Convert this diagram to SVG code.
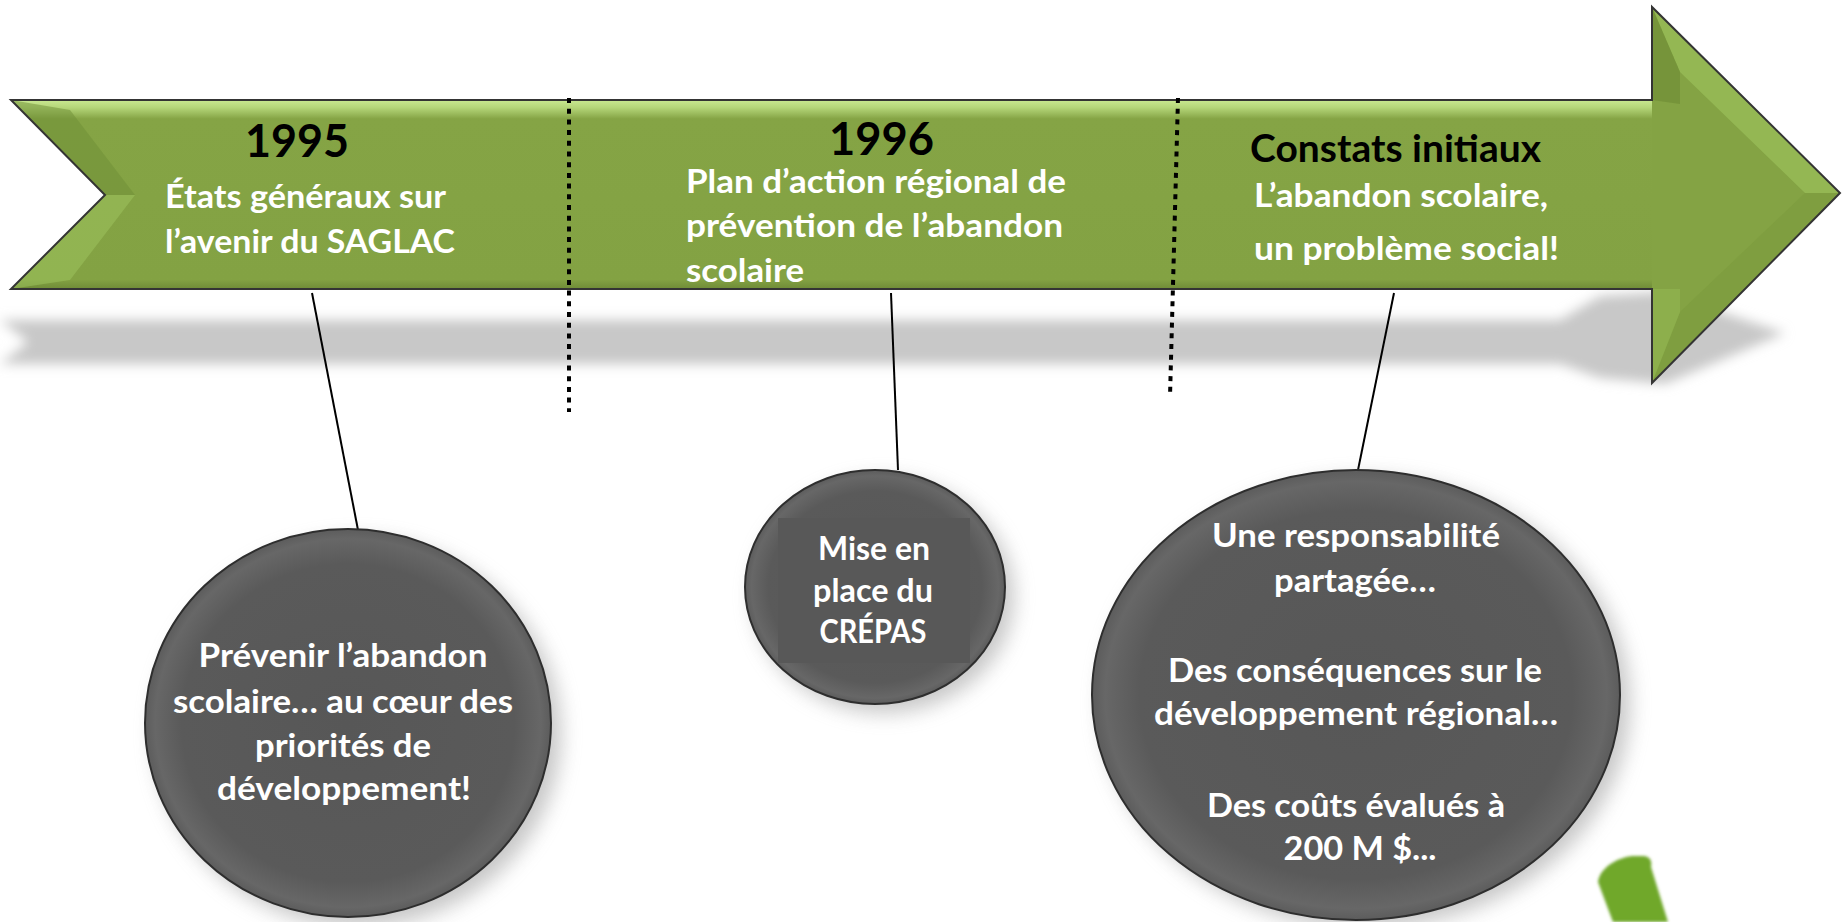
<svg xmlns="http://www.w3.org/2000/svg" width="1847" height="922" viewBox="0 0 1847 922">
<style>
.t{font-family:Lato,"Open Sans","Liberation Sans",sans-serif;font-weight:bold}
.w{fill:#ffffff;font-size:33px}
.yr{fill:#000000;font-size:46px}
.hd{fill:#000000;font-size:38px}
.c{fill:#ffffff;font-size:32px;text-anchor:middle}
.conn{stroke:#000;stroke-width:2;fill:none}
.dot{stroke:#000;stroke-width:4;stroke-dasharray:5 5.7;fill:none}
.bub{fill:url(#bubG);stroke:#2e2e2e;stroke-width:2}
</style>
<defs>
<linearGradient id="bodyG" x1="0" y1="100" x2="0" y2="289" gradientUnits="userSpaceOnUse">
<stop offset="0" stop-color="#c9e991"/>
<stop offset="0.04" stop-color="#b5d679"/>
<stop offset="0.1" stop-color="#85a445"/>
<stop offset="0.95" stop-color="#83a243"/>
<stop offset="1" stop-color="#6f8b37"/>
</linearGradient>
<radialGradient id="bubG" cx="0.5" cy="0.5" r="0.5">
<stop offset="0" stop-color="#575757"/>
<stop offset="0.82" stop-color="#5a5a5a"/>
<stop offset="0.95" stop-color="#676767"/>
<stop offset="1" stop-color="#5c5c5c"/>
</radialGradient>
<filter id="blur6" x="-20%" y="-50%" width="140%" height="200%"><feGaussianBlur stdDeviation="6"/></filter>
<filter id="blur10" x="-20%" y="-20%" width="140%" height="140%"><feGaussianBlur stdDeviation="10"/></filter>
<filter id="blur2" x="-20%" y="-20%" width="140%" height="140%"><feGaussianBlur stdDeviation="1.5"/></filter>
</defs>
<rect width="1847" height="922" fill="#ffffff"/>

<g id="shadow">
<path d="M0,320 L1560,320 L1600,296 L1660,292 L1785,333 L1665,384 L1600,378 L1560,364 L0,364 L28,342 Z" fill="#c8c8c8" filter="url(#blur6)"/>
</g>

<g id="timeline-arrow">
<path d="M11,100 L1652,100 L1652,7 L1840,193 L1652,383 L1652,289 L11,289 L105,195 Z" fill="url(#bodyG)"/>
<path d="M1652,100 L1652,7 L1840,193 L1652,383 L1652,289" fill="#84a344"/>
<path d="M1652,7 L1840,193 L1805,193 L1680,72 Z" fill="#9fc55e" opacity="0.6"/>
<path d="M1840,193 L1652,383 L1680,312 L1805,193 Z" fill="#7a993b" opacity="0.5"/>
<path d="M1652,7 L1680,72 L1680,104 L1652,100 Z" fill="#6c8a33" opacity="0.6"/>
<path d="M1652,289 L1680,289 L1680,312 L1652,383 Z" fill="#93b751" opacity="0.6"/>
<path d="M11,100 L105,195 L135,195 L70,110 Z" fill="#6e8d35" opacity="0.5"/>
<path d="M11,289 L105,195 L135,195 L70,280 Z" fill="#a0c560" opacity="0.5"/>
<path d="M11,100 L1652,100 L1652,7 L1840,193 L1652,383 L1652,289 L11,289 L105,195 Z" fill="none" stroke="#343434" stroke-width="2"/>
</g>

<g id="separators">
<line class="dot" x1="569" y1="98" x2="569" y2="412"/>
<line class="dot" x1="1178" y1="98" x2="1170" y2="397"/>
</g>

<g id="connectors">
<line class="conn" x1="312" y1="293" x2="358" y2="530"/>
<line class="conn" x1="891" y1="293" x2="898" y2="470"/>
<line class="conn" x1="1394" y1="293" x2="1358" y2="470"/>
</g>

<g id="label-1995" class="t">
<text class="yr" x="245" y="157" textLength="104" lengthAdjust="spacingAndGlyphs">1995</text>
<text class="w" x="165" y="208" textLength="281" lengthAdjust="spacingAndGlyphs">États généraux sur</text>
<text class="w" x="165" y="253" textLength="290" lengthAdjust="spacingAndGlyphs">l’avenir du SAGLAC</text>
</g>

<g id="label-1996" class="t">
<text class="yr" x="829" y="155" textLength="105" lengthAdjust="spacingAndGlyphs">1996</text>
<text class="w" x="686" y="193" textLength="380" lengthAdjust="spacingAndGlyphs">Plan d’action régional de</text>
<text class="w" x="686" y="237" textLength="377" lengthAdjust="spacingAndGlyphs">prévention de l’abandon</text>
<text class="w" x="686" y="282" textLength="118" lengthAdjust="spacingAndGlyphs">scolaire</text>
</g>

<g id="label-constats" class="t">
<text class="hd" x="1250" y="162" textLength="291" lengthAdjust="spacingAndGlyphs">Constats initiaux</text>
<text class="w" x="1254" y="207" textLength="294" lengthAdjust="spacingAndGlyphs">L’abandon scolaire,</text>
<text class="w" x="1254" y="260" textLength="305" lengthAdjust="spacingAndGlyphs">un problème social!</text>
</g>

<g id="bubble-1">
<ellipse cx="358" cy="733" rx="203" ry="194" fill="#9a9a9a" opacity="0.55" filter="url(#blur10)"/>
<ellipse class="bub" cx="348" cy="723" rx="203" ry="194"/>
<g class="t">
<text class="c" x="343" y="667" textLength="289" lengthAdjust="spacingAndGlyphs">Prévenir l’abandon</text>
<text class="c" x="343" y="713" textLength="340" lengthAdjust="spacingAndGlyphs">scolaire… au cœur des</text>
<text class="c" x="343" y="757" textLength="176" lengthAdjust="spacingAndGlyphs">priorités de</text>
<text class="c" x="344" y="800" textLength="254" lengthAdjust="spacingAndGlyphs">développement!</text>
</g>
</g>

<g id="bubble-2">
<ellipse cx="884" cy="596" rx="130" ry="117" fill="#9a9a9a" opacity="0.55" filter="url(#blur10)"/>
<ellipse class="bub" cx="875" cy="587" rx="130" ry="117"/>
<rect x="778" y="518" width="192" height="145" fill="#585858"/>
<g class="t">
<text class="c" x="874" y="560" textLength="112" lengthAdjust="spacingAndGlyphs">Mise en</text>
<text class="c" x="873" y="602" textLength="120" lengthAdjust="spacingAndGlyphs">place du</text>
<text class="c" x="873" y="643" textLength="107" lengthAdjust="spacingAndGlyphs">CRÉPAS</text>
</g>
</g>

<g id="bubble-3">
<ellipse cx="1366" cy="703" rx="264" ry="225" fill="#9a9a9a" opacity="0.55" filter="url(#blur10)"/>
<ellipse class="bub" cx="1356" cy="695" rx="264" ry="225"/>
<g class="t">
<text class="c" x="1356" y="547" textLength="288" lengthAdjust="spacingAndGlyphs">Une responsabilité</text>
<text class="c" x="1355" y="592" textLength="162" lengthAdjust="spacingAndGlyphs">partagée…</text>
<text class="c" x="1355" y="682" textLength="374" lengthAdjust="spacingAndGlyphs">Des conséquences sur le</text>
<text class="c" x="1356" y="725" textLength="404" lengthAdjust="spacingAndGlyphs">développement régional…</text>
<text class="c" x="1356" y="817" textLength="298" lengthAdjust="spacingAndGlyphs">Des coûts évalués à</text>
<text class="c" x="1360" y="860" textLength="153" lengthAdjust="spacingAndGlyphs">200 M $...</text>
</g>
</g>

<g id="green-mark">
<path d="M1598,882 C1600,868 1616,858 1632,856 L1644,856 C1651,857 1652,862 1651,867 L1668,922 L1613,922 Z" fill="#70a82a" filter="url(#blur2)"/>
</g>
</svg>
